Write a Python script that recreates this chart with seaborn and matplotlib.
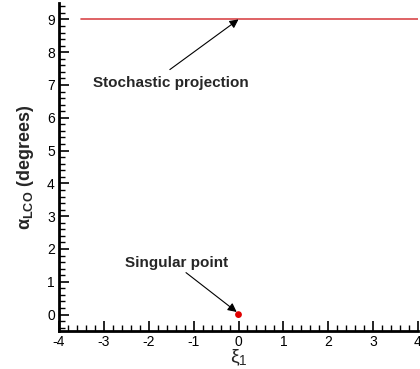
import matplotlib
matplotlib.use("Agg")
import matplotlib.pyplot as plt
from matplotlib.ticker import MultipleLocator
import seaborn as sns
import pandas as pd

sns.set_theme(style="ticks")
plt.rcParams["font.family"] = ["Liberation Sans", "DejaVu Sans"]
plt.rcParams["mathtext.fontset"] = "custom"
plt.rcParams["mathtext.rm"] = "Liberation Sans"
plt.rcParams["mathtext.bf"] = "Liberation Sans:bold"
plt.rcParams["mathtext.default"] = "regular"

# Stochastic projection of the LCO amplitude over xi_1
proj_xi = [-3.5, 4.0]
proj_alpha = [9.0, 9.0]
# Singular point
sing_xi = [0.0]
sing_alpha = [0.0]

x_ticks = [-4, -3, -2, -1, 0, 1, 2, 3, 4]
y_ticks = [0, 1, 2, 3, 4, 5, 6, 7, 8, 9]

proj = pd.DataFrame({"xi": proj_xi, "alpha": proj_alpha})
sing = pd.DataFrame({"xi": sing_xi, "alpha": sing_alpha})

fig = plt.figure(figsize=(4.2, 3.69), dpi=100)
ax = fig.add_axes([59 / 420, 38 / 369, 359 / 420, 328 / 369])

sns.lineplot(data=proj, x="xi", y="alpha", ax=ax, color="#d9474a", linewidth=1.2)
sns.scatterplot(data=sing, x="xi", y="alpha", ax=ax, color="#e00000", s=24,
                edgecolor="none", zorder=5)

ax.set_xlim(-4, 4)
ax.set_ylim(-0.5, 9.5)
ax.set_xticks(x_ticks)
ax.set_yticks(y_ticks)
ax.set_xticklabels([str(v) for v in x_ticks])
ax.set_yticklabels([str(v) for v in y_ticks])
ax.xaxis.set_minor_locator(MultipleLocator(0.2))
ax.yaxis.set_minor_locator(MultipleLocator(0.2))

for side in ["top", "right"]:
    ax.spines[side].set_visible(False)
for side in ["left", "bottom"]:
    ax.spines[side].set_linewidth(2)
    ax.spines[side].set_color("black")

ax.tick_params(which="major", direction="in", length=7, width=1.2,
               labelsize=10, pad=3, colors="black")
ax.tick_params(which="minor", direction="in", length=4, width=1, colors="black")

ax.set_xlabel(r"$\xi_1$", fontsize=14, labelpad=-1)
ax.set_ylabel(r"$\alpha_{LCO}$ (degrees)", fontsize=13, fontweight="bold", labelpad=8)

arrow = dict(arrowstyle="-|>", color="black", lw=0.8, mutation_scale=13,
             shrinkA=0, shrinkB=0)
ax.annotate("", xy=(0.0, 9.0), xytext=(-1.53, 7.47), arrowprops=arrow)
ax.text(-1.5, 7.07, "Stochastic projection", ha="center", va="center",
        fontsize=11, fontweight="bold")
ax.annotate("", xy=(-0.04, 0.08), xytext=(-1.17, 1.28), arrowprops=arrow)
ax.text(-1.37, 1.58, "Singular point", ha="center", va="center",
        fontsize=11, fontweight="bold")

fig.savefig("out.png", dpi=100)
